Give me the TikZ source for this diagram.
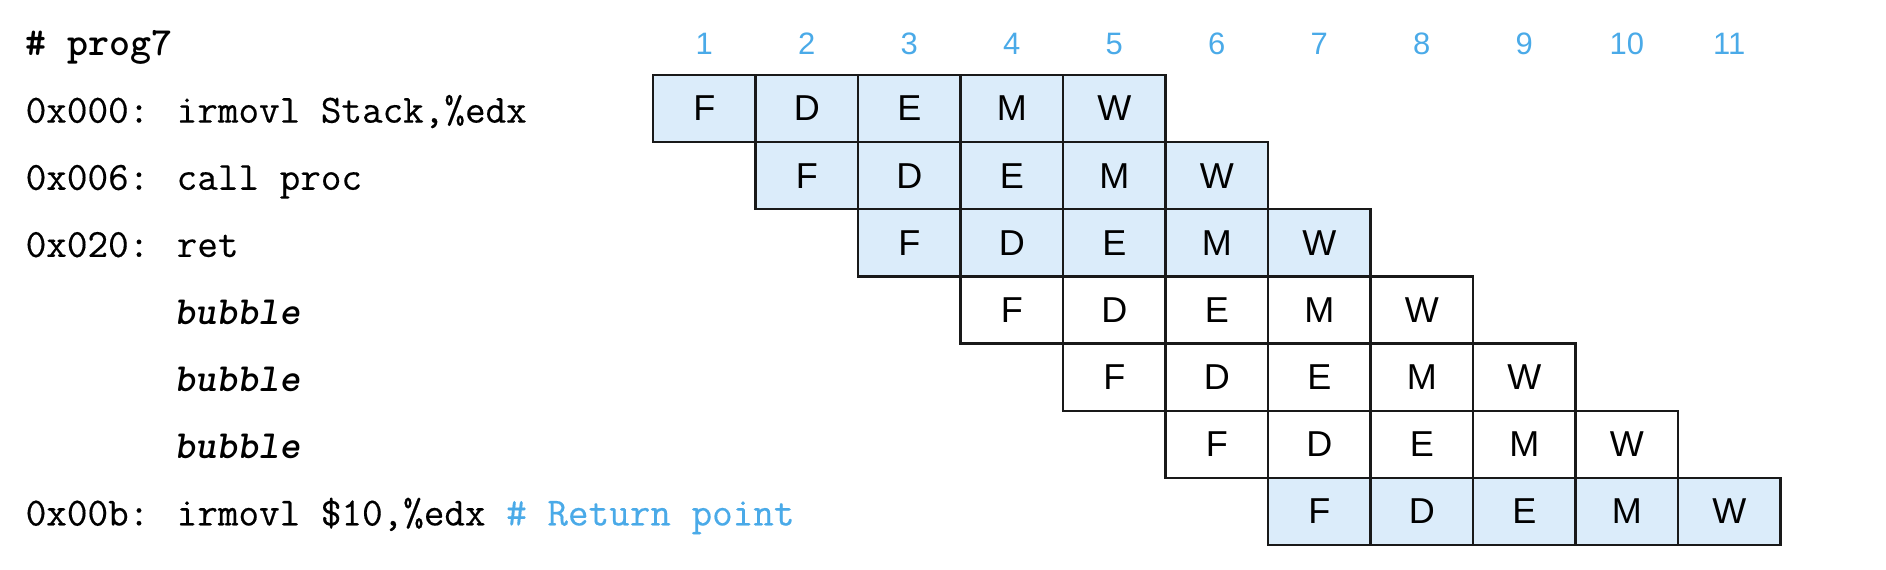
\documentclass[tikz,border=0pt]{standalone}
\usepackage{fontspec}
\newfontfamily\stagefont{Liberation Sans}
\newfontfamily\codefont[FakeBold=0.35]{Latin Modern Mono}
\usetikzlibrary{positioning}
\definecolor{cycleblue}{RGB}{74,170,232}
\definecolor{stagefill}{RGB}{219,236,250}

\begin{document}
\begin{tikzpicture}[
stagenode/.style={rectangle, draw=black!90, fill=stagefill, line width=0.65pt, minimum width=1cm, minimum height=6.55mm, inner sep=0pt, outer sep=0pt, font=\stagefont\fontsize{10}{12}\selectfont},
bubblenode/.style={stagenode, fill=white},
cyclenode/.style={inner sep=0pt, text=cycleblue, font=\stagefont\fontsize{8.6}{10}\selectfont},
headnode/.style={anchor=base west, inner sep=0pt, font=\ttfamily\bfseries\fontsize{11.1}{13}\selectfont},
codenode/.style={anchor=base west, inner sep=0pt, yshift=-1.37mm, font=\codefont\fontsize{11.1}{13}\selectfont},
bubbletext/.style={codenode, font=\ttfamily\bfseries\itshape\fontsize{11.1}{13}\selectfont}
]
\useasboundingbox (0,0) rectangle (18.40,-5.561);
%Stages
\node[stagenode]  (r1f) at (6.871,-1.0595)  {F};
\node[stagenode]  (r1d) [right=0pt of r1f] {D};
\node[stagenode]  (r1e) [right=0pt of r1d] {E};
\node[stagenode]  (r1m) [right=0pt of r1e] {M};
\node[stagenode]  (r1w) [right=0pt of r1m] {W};
\node[stagenode]  (r2f) [below=0pt of r1d] {F};
\node[stagenode]  (r2d) [right=0pt of r2f] {D};
\node[stagenode]  (r2e) [right=0pt of r2d] {E};
\node[stagenode]  (r2m) [right=0pt of r2e] {M};
\node[stagenode]  (r2w) [right=0pt of r2m] {W};
\node[stagenode]  (r3f) [below=0pt of r2d] {F};
\node[stagenode]  (r3d) [right=0pt of r3f] {D};
\node[stagenode]  (r3e) [right=0pt of r3d] {E};
\node[stagenode]  (r3m) [right=0pt of r3e] {M};
\node[stagenode]  (r3w) [right=0pt of r3m] {W};
\node[bubblenode] (r4f) [below=0pt of r3d] {F};
\node[bubblenode] (r4d) [right=0pt of r4f] {D};
\node[bubblenode] (r4e) [right=0pt of r4d] {E};
\node[bubblenode] (r4m) [right=0pt of r4e] {M};
\node[bubblenode] (r4w) [right=0pt of r4m] {W};
\node[bubblenode] (r5f) [below=0pt of r4d] {F};
\node[bubblenode] (r5d) [right=0pt of r5f] {D};
\node[bubblenode] (r5e) [right=0pt of r5d] {E};
\node[bubblenode] (r5m) [right=0pt of r5e] {M};
\node[bubblenode] (r5w) [right=0pt of r5m] {W};
\node[bubblenode] (r6f) [below=0pt of r5d] {F};
\node[bubblenode] (r6d) [right=0pt of r6f] {D};
\node[bubblenode] (r6e) [right=0pt of r6d] {E};
\node[bubblenode] (r6m) [right=0pt of r6e] {M};
\node[bubblenode] (r6w) [right=0pt of r6m] {W};
\node[stagenode]  (r7f) [below=0pt of r6d] {F};
\node[stagenode]  (r7d) [right=0pt of r7f] {D};
\node[stagenode]  (r7e) [right=0pt of r7d] {E};
\node[stagenode]  (r7m) [right=0pt of r7e] {M};
\node[stagenode]  (r7w) [right=0pt of r7m] {W};
%Cycles
\node[cyclenode] (c1) [above=1.95mm of r1f] {1};
\node[cyclenode] (c2) at (r1d |- c1) {2};
\node[cyclenode] (c3) at (r1e |- c1) {3};
\node[cyclenode] (c4) at (r1m |- c1) {4};
\node[cyclenode] (c5) at (r1w |- c1) {5};
\node[cyclenode] (c6) at (r2w |- c1) {6};
\node[cyclenode] (c7) at (r3w |- c1) {7};
\node[cyclenode] (c8) at (r4w |- c1) {8};
\node[cyclenode] (c9) at (r5w |- c1) {9};
\node[cyclenode] (c10) at (r6w |- c1) {10};
\node[cyclenode] (c11) at (r7w |- c1) {11};
%Code
\coordinate (margin) at (0.244,0);
\coordinate (indent) at (1.70,0);
\node[headnode] (prog) at (margin |- c1.south) {\# prog7};
\node[codenode] (code1) at (margin |- r1f) {0x000: irmovl Stack,\%edx};
\node[codenode] (code2) at (margin |- r2f) {0x006: call proc};
\node[codenode] (code3) at (margin |- r3f) {0x020: ret};
\node[bubbletext] (code4) at (indent |- r4f) {bubble};
\node[bubbletext] (code5) at (indent |- r5f) {bubble};
\node[bubbletext] (code6) at (indent |- r6f) {bubble};
\node[codenode] (code7) at (margin |- r7f) {0x00b: irmovl \$10,\%edx \textcolor{cycleblue}{\# Return point}};
\end{tikzpicture}
\end{document}
